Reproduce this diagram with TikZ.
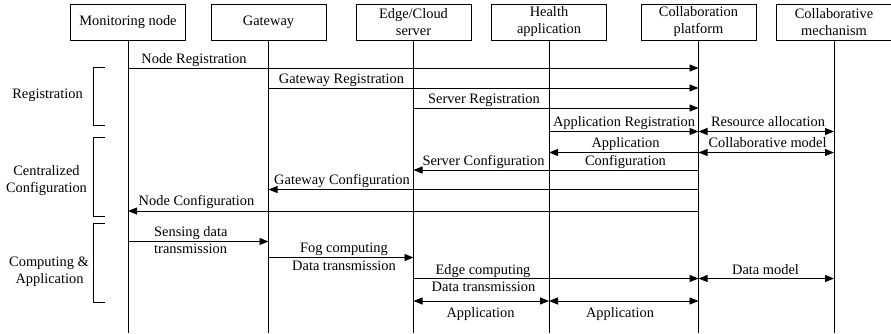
\documentclass[tikz,border=0pt]{standalone}
\usepackage{fontspec}
\setmainfont{Liberation Serif}
\usetikzlibrary{arrows.meta}
\begin{document}
\begin{tikzpicture}[x=1pt,y=-1pt,
  every node/.style={font=\fontsize{14.4}{17}\selectfont},
  actor/.style={draw,line width=0.9pt,minimum width=115pt,minimum height=36pt,inner sep=0pt,align=center},
  life/.style={line width=0.9pt},
  msg/.style={line width=0.9pt,-{Triangle[length=9pt,width=7pt]}},
  both/.style={line width=0.9pt,{Triangle[length=9pt,width=7pt]}-{Triangle[length=9pt,width=7pt]}},
  lbl/.style={anchor=base,inner sep=0pt,align=center},
  brk/.style={line width=0.9pt}]
\useasboundingbox (0,0) rectangle (891,333);

% participants
\node[actor] (mn) at (128,22) {Monitoring node};
\node[actor] (gw) at (268.5,22) {Gateway};
\node[actor] (ec) at (413.5,22) {Edge/Cloud\\server};
\node[actor] (ha) at (549,22) {Health\\application};
\node[actor] (cp) at (698.5,22) {Collaboration\\platform};
\node[actor] (cm) at (834,22) {Collaborative\\mechanism};

% lifelines
\foreach \n in {mn,gw,ec,ha,cp,cm}{
  \coordinate (\n end) at (\n.south |- 0,333);
  \draw[life] (\n.south) -- (\n end);
}

% registration phase
\draw[msg] (mn.south |- 0,68) -- (cp.south |- 0,68);
\node[lbl] (t1) at (194,63) {Node Registration};
\draw[msg] (gw.south |- 0,88) -- (cp.south |- 0,88);
\node[lbl] (t2) at (341.5,83) {Gateway Registration};
\draw[msg] (ec.south |- 0,108) -- (cp.south |- 0,108);
\node[lbl] (t3) at (484,103) {Server Registration};
\draw[msg] (ha.south |- 0,131.5) -- (cp.south |- 0,131.5);
\node[lbl] (t4) at (624,126.5) {Application Registration};
\draw[both] (cp.south |- 0,131.5) -- (cm.south |- 0,131.5);
\node[lbl] (t5) at (768,126.5) {Resource allocation};

% configuration phase
\draw[msg] (cp.south |- 0,152.5) -- (ha.south |- 0,152.5);
\node[lbl] (t6) at (625.5,147.5) {Application};
\node[lbl] (t7) at (625.5,165) {Configuration};
\draw[both] (cp.south |- 0,152.5) -- (cm.south |- 0,152.5);
\node[lbl] (t8) at (767.5,147.5) {Collaborative model};
\draw[msg] (cp.south |- 0,170) -- (ec.south |- 0,170);
\node[lbl] (t9) at (483.5,165) {Server Configuration};
\draw[msg] (cp.south |- 0,189.5) -- (gw.south |- 0,189.5);
\node[lbl] (t10) at (342,184) {Gateway Configuration};
\draw[msg] (cp.south |- 0,211) -- (mn.south |- 0,211);
\node[lbl] (t11) at (196.5,205) {Node Configuration};

% computing and application phase
\draw[msg] (mn.south |- 0,241.5) -- (gw.south |- 0,241.5);
\node[lbl,anchor=base west] (t12) at (154,236.5) {Sensing data};
\node[lbl,anchor=base west] (t13) at (154,253.5) {transmission};
\draw[msg] (gw.south |- 0,257.5) -- (ec.south |- 0,257.5);
\node[lbl] (t14) at (344,252.5) {Fog computing};
\node[lbl] (t15) at (344,270) {Data transmission};
\draw[msg] (ec.south |- 0,278.5) -- (cp.south |- 0,278.5);
\node[lbl] (t16) at (483,274) {Edge computing};
\node[lbl] (t17) at (483.5,291) {Data transmission};
\draw[both] (cp.south |- 0,278.5) -- (cm.south |- 0,278.5);
\node[lbl] (t18) at (765.5,274.5) {Data model};
\draw[both] (ec.south |- 0,301) -- (ha.south |- 0,301);
\node[lbl] (t19) at (480.5,317) {Application};
\draw[both] (ha.south |- 0,301) -- (cp.south |- 0,301);
\node[lbl] (t20) at (620,317) {Application};

% phase brackets
\draw[brk] (105,67) -- (93,67) -- (93,125) -- (105,125);
\node[lbl] (p1) at (47.5,98.5) {Registration};
\draw[brk] (105,137) -- (93,137) -- (93,216) -- (105,216);
\node[lbl] (p2a) at (46.5,175) {Centralized};
\node[lbl] (p2b) at (46.5,192) {Configuration};
\draw[brk] (105,223) -- (93,223) -- (93,302) -- (105,302);
\node[lbl] (p3a) at (49,266.5) {Computing \&};
\node[lbl] (p3b) at (49.5,283.5) {Application};
\end{tikzpicture}
\end{document}
